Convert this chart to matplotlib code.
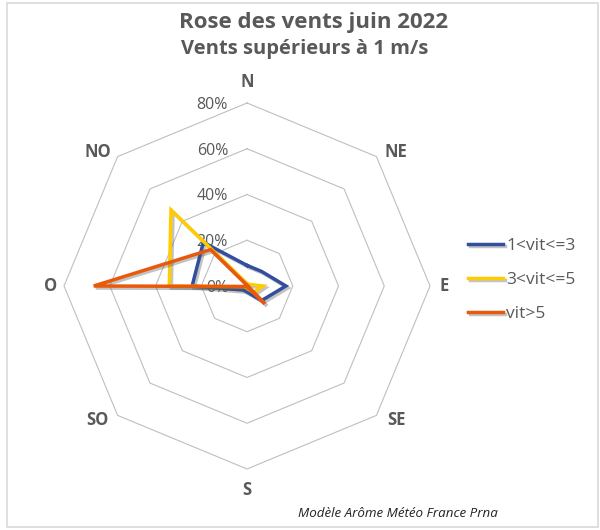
import numpy as np
import matplotlib
matplotlib.use('Agg')
import matplotlib.pyplot as plt
import matplotlib.patheffects as pe
from matplotlib.transforms import offset_copy
from matplotlib.patches import Rectangle

plt.rcParams['font.family'] = ['Open Sans', 'DejaVu Sans']

# directions (clockwise from north)
directions = ['N', 'NE', 'E', 'SE', 'S', 'SO', 'O', 'NO']

# frequencies in %
vit_1_3 = [9, 9, 17, 9, 2.6, 2.5, 24, 27]
vit_3_5 = [1, 1, 7, 4, 1, 0.5, 34, 47]
vit_5 = [0.3, 0.3, 0.3, 11, 0.3, 0.3, 67, 22.5]

series_names = ['1<vit<=3', '3<vit<=5', 'vit>5']
series_colors = ['#334E9E', '#FFCC00', '#E8590C']

r_ticks = [0, 20, 40, 60, 80]
r_tick_labels = ['0%', '20%', '40%', '60%', '80%']

grey = '#595959'

fig = plt.figure(figsize=(6, 5.3), dpi=100)

# outer frame like the excel chart area
fig.patches.append(Rectangle((7/600, 3/530), 591/600, 524/530, transform=fig.transFigure,
                             fill=False, edgecolor='#d9d9d9', lw=1.2))

ax = fig.add_axes([0.1067, 0.1151, 0.61, 0.6906], projection='polar')
ax.set_theta_zero_location('N')
ax.set_theta_direction(-1)
ax.set_ylim(0, 80)
ax.grid(False)
ax.spines['polar'].set_visible(False)
ax.set_xticks([])
ax.set_yticks([])
ax.patch.set_alpha(0)

n = len(directions)
angles = np.arange(n) * 2 * np.pi / n
closed_angles = np.append(angles, angles[0])

# octagonal grid
for r in r_ticks[1:]:
    ax.plot(closed_angles, [r] * (n + 1), color='#BFBFBF', lw=0.8, zorder=1, clip_on=False)

# radial tick labels on the north axis
lab_tr = offset_copy(ax.transData, fig=fig, x=-19, y=-2, units='dots')
for r, lab in zip(r_ticks, r_tick_labels):
    ax.text(0, r, lab, transform=lab_tr, ha='right', va='center', fontsize=11.5, color=grey)

# direction labels
for a, d in zip(angles, directions):
    if d in ('N', 'S'):
        rr, dx = 89, 0
    elif d in ('E', 'O'):
        rr, dx = 86, 0
    else:
        rr = 83
        dx = 15 if np.sin(a) > 0 else -15
    tr = offset_copy(ax.transData, fig=fig, x=dx, y=0, units='dots')
    ax.text(a, rr, d, transform=tr, ha='center', va='center', fontsize=12, fontweight='bold',
            color=grey, clip_on=False)

shadow = [pe.SimpleLineShadow(offset=(1.5, -1.5), shadow_color='#555555', alpha=0.35), pe.Normal()]
for vals, name, col in zip([vit_1_3, vit_3_5, vit_5], series_names, series_colors):
    v = list(vals) + [vals[0]]
    ax.plot(closed_angles, v, color=col, lw=2.5, label=name, zorder=3,
            path_effects=shadow, solid_joinstyle='miter', clip_on=False)

handles, labels = ax.get_legend_handles_labels()
leg = fig.legend(handles, labels, loc='center left', bbox_to_anchor=(0.78, 0.4717),
                 frameon=False, fontsize=12.5, labelspacing=1.05, handlelength=2.0,
                 handletextpad=0.2, borderaxespad=0, borderpad=0)
for t in leg.get_texts():
    t.set_color(grey)

fig.text(0.522, 1 - 28/530, 'Rose des vents juin 2022', ha='center', va='baseline',
         fontsize=16, fontweight='bold', color=grey)
fig.text(0.508, 1 - 54/530, 'Vents supérieurs à 1 m/s', ha='center', va='baseline',
         fontsize=14.5, fontweight='bold', color=grey)
fig.text(298/600, 1 - 517/530, 'Modèle Arôme Météo France Prna', ha='left', va='baseline',
         fontsize=9.6, style='italic', color='#222222')

fig.savefig('out.png', dpi=100)
